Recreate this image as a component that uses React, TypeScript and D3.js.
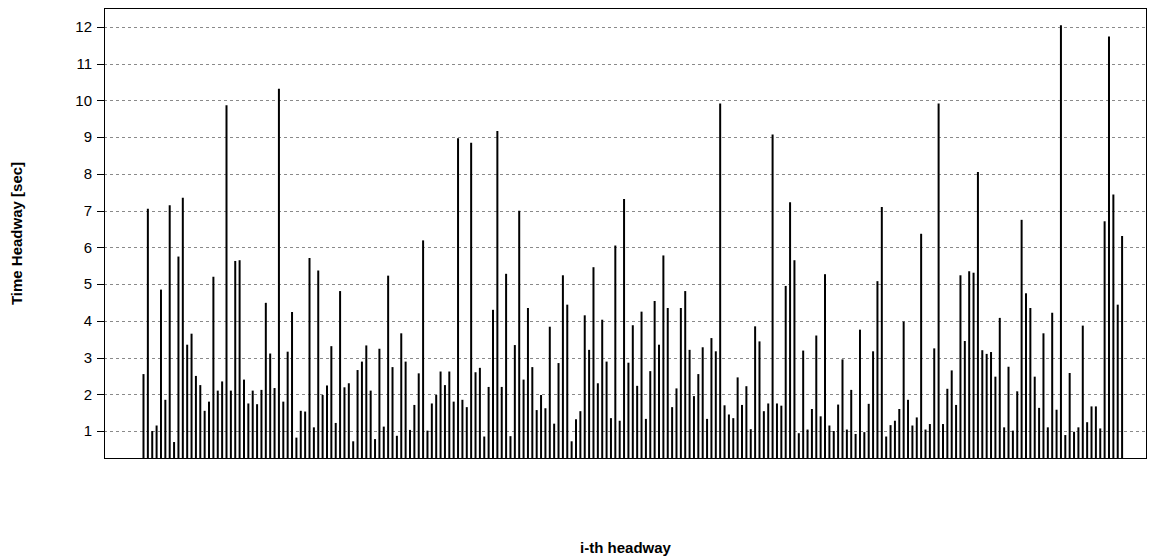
import React from "react";
import * as d3 from "d3";

// Time headway values (sec), one per headway index
const headways: number[] = [
  2.55, 7.05, 1.0, 1.15, 4.85, 1.85, 7.15, 0.7, 5.75, 7.35,
  3.35, 3.65, 2.5, 2.25, 1.55, 1.8, 5.2, 2.1, 2.35, 9.87,
  2.1, 5.63, 5.65, 2.4, 1.75, 2.1, 1.73, 2.12, 4.49, 3.11,
  2.17, 10.32, 1.8, 3.16, 4.24, 0.82, 1.55, 1.53, 5.71, 1.1,
  5.37, 1.98, 2.24, 3.31, 1.22, 4.81, 2.19, 2.3, 0.72, 2.66,
  2.89, 3.33, 2.1, 0.78, 3.24, 1.12, 5.23, 2.74, 0.87, 3.66,
  2.89, 1.03, 1.71, 2.57, 6.19, 1.01, 1.75, 1.98, 2.62, 2.25,
  2.62, 1.8, 8.97, 1.85, 1.65, 8.85, 2.6, 2.72, 0.85, 2.2,
  4.3, 9.17, 2.2, 5.28, 0.86, 3.34, 7.0, 2.4, 4.35, 2.74,
  1.57, 1.98, 1.62, 3.84, 1.2, 2.85, 5.24, 4.44, 0.72, 1.32,
  1.54, 4.15, 3.21, 5.46, 2.3, 4.03, 2.89, 1.35, 6.05, 1.28,
  7.32, 2.86, 3.88, 2.23, 4.25, 1.33, 2.63, 4.54, 3.35, 5.78,
  4.35, 1.65, 2.16, 4.35, 4.81, 3.21, 1.95, 2.55, 3.28, 1.33,
  3.53, 3.17, 9.92, 1.7, 1.45, 1.35, 2.46, 1.71, 2.22, 1.05,
  3.85, 3.44, 1.54, 1.75, 9.07, 1.75, 1.69, 4.95, 7.23, 5.65,
  0.94, 3.19, 1.04, 1.6, 3.6, 1.4, 5.27, 1.15, 1.0, 1.72,
  2.95, 1.04, 2.12, 0.92, 3.76, 0.97, 1.74, 3.17, 5.08, 7.1,
  0.85, 1.16, 1.28, 1.6, 3.98, 1.85, 1.15, 1.37, 6.37, 1.04,
  1.19, 3.25, 9.92, 1.19, 2.15, 2.65, 1.71, 5.24, 3.45, 5.35,
  5.31, 8.05, 3.2, 3.1, 3.15, 2.48, 4.08, 1.1, 2.75, 1.01,
  2.08, 6.75, 4.75, 4.35, 2.48, 1.63, 3.66, 1.1, 4.22, 1.58,
  12.05, 0.89, 2.58, 0.98, 1.1, 3.87, 1.24, 1.67, 1.67, 1.07,
  6.71, 11.74, 7.44, 4.44, 6.31,
];

const yTicks: number[] = [1, 2, 3, 4, 5, 6, 7, 8, 9, 10, 11, 12];
const xTitle = "i-th headway";
const yTitle = "Time Headway [sec]";

const W = 1159;
const H = 556;
const plot = { left: 104, top: 8, right: 1147, bottom: 459 };
const FONT = "'Liberation Sans', Arial, Helvetica, sans-serif";

export default function App() {
  const x = d3
    .scaleLinear()
    .domain([1 - 9.04, headways.length + 5.7])
    .range([plot.left, plot.right]);
  const y = d3
    .scaleLinear()
    .domain([0.238, 12.517])
    .range([plot.bottom, plot.top]);

  return (
    <svg
      width={W}
      height={H}
      style={{ position: "absolute", left: 0, top: 0, display: "block", background: "#fff" }}
    >
      <defs>
        <clipPath id="plotclip">
          <rect x={plot.left} y={plot.top} width={plot.right - plot.left} height={plot.bottom - plot.top} />
        </clipPath>
      </defs>
      {/* grid */}
      <g>
        {yTicks.map((t) => (
          <line
            key={"g" + t}
            x1={plot.left}
            x2={plot.right}
            y1={Math.round(y(t)) + 0.5}
            y2={Math.round(y(t)) + 0.5}
            stroke="#8a8a8a"
            strokeWidth={1}
            strokeDasharray="3,3"
          />
        ))}
      </g>
      {/* bars */}
      <g clipPath="url(#plotclip)">
        {headways.map((v, i) => (
          <line
            key={"b" + i}
            x1={x(i + 1)}
            x2={x(i + 1)}
            y1={y(0)}
            y2={y(v)}
            stroke="#000"
            strokeWidth={2}
          />
        ))}
      </g>
      {/* frame */}
      <rect
        x={plot.left + 0.5}
        y={plot.top + 0.5}
        width={plot.right - plot.left - 1}
        height={plot.bottom - plot.top - 1}
        fill="none"
        stroke="#000"
        strokeWidth={1}
      />
      {/* y axis */}
      <g>
        {yTicks.map((t) => (
          <g key={"t" + t}>
            <line
              x1={plot.left - 7}
              x2={plot.left}
              y1={Math.round(y(t)) + 0.5}
              y2={Math.round(y(t)) + 0.5}
              stroke="#000"
            />
            <text
              x={plot.left - 12}
              y={y(t)}
              dy="0.35em"
              textAnchor="end"
              fontFamily={FONT}
              fontSize={15}
              fill="#000"
            >
              {t}
            </text>
          </g>
        ))}
      </g>
      <text
        transform={`translate(22, ${(plot.top + plot.bottom) / 2}) rotate(-90)`}
        textAnchor="middle"
        fontFamily={FONT}
        fontSize={15}
        fontWeight="bold"
        fill="#000"
      >
        {yTitle}
      </text>
      <text
        x={(plot.left + plot.right) / 2}
        y={553}
        textAnchor="middle"
        fontFamily={FONT}
        fontSize={15}
        fontWeight="bold"
        fill="#000"
      >
        {xTitle}
      </text>
    </svg>
  );
}
